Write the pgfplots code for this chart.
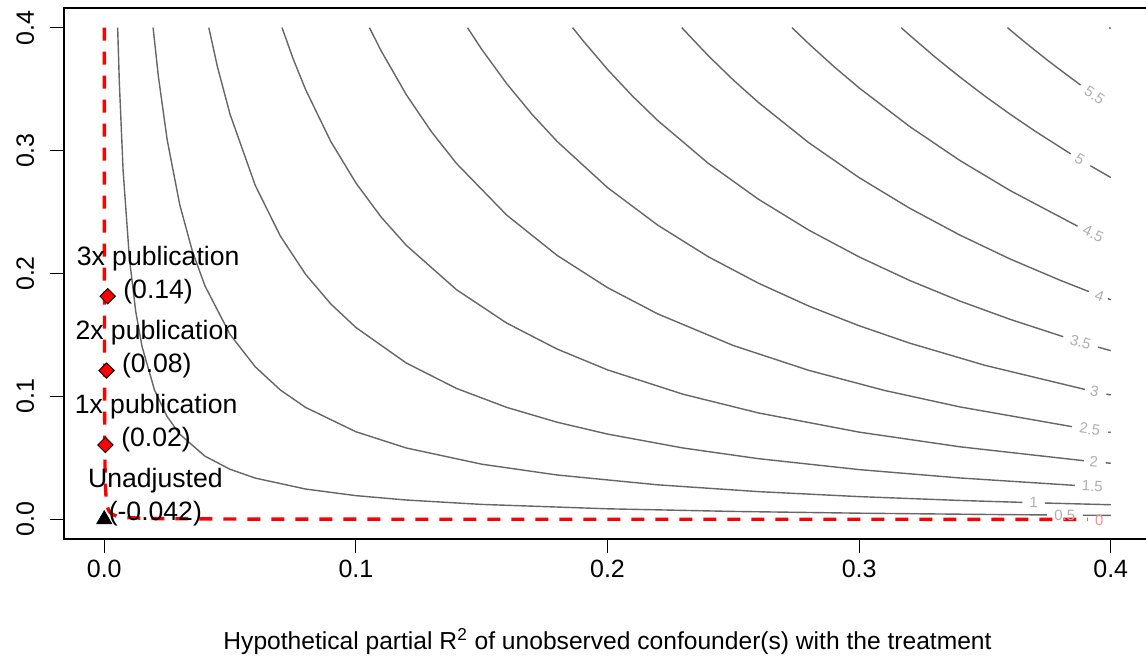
\documentclass[border=0pt]{standalone}
\usepackage{pgfplots}
\pgfplotsset{compat=1.18}
\usepackage{fontspec}
\setmainfont{Liberation Sans}
\definecolor{contour}{HTML}{666666}
\definecolor{clab}{HTML}{AFAFAF}
\definecolor{rlab}{HTML}{FF8C8C}
\newcommand{\mainfont}{\fontsize{13.3bp}{16.5bp}\selectfont}
\newcommand{\tickfont}{\fontsize{12.5bp}{15bp}\selectfont}
\newcommand{\titlefont}{\fontsize{12.3bp}{15bp}\selectfont}
\newcommand{\labfont}{\fontsize{7.5bp}{9bp}\selectfont}
\begin{document}
\begin{tikzpicture}
\begin{axis}[
  at={(32bp,60.5bp)}, anchor=south west,
  scale only axis, width=543.5bp, height=265.5bp,
  xmin=-0.016, xmax=0.416, ymin=-0.016, ymax=0.416,
  axis line style={black, line width=0.6bp},
  tick align=outside, tick pos=left,
  major tick length=7bp,
  tick style={black, line width=0.6bp},
  xtick={0,0.1,0.2,0.3,0.4}, xticklabels={0.0,0.1,0.2,0.3,0.4},
  ytick={0,0.1,0.2,0.3,0.4}, yticklabels={0.0,0.1,0.2,0.3,0.4},
  ticklabel style={font=\tickfont},
  xticklabel style={anchor=base},
  xticklabel shift=12bp,
  yticklabel style={rotate=90, anchor=base},
  yticklabel shift=8bp,
  xlabel={Hypothetical partial R\textsuperscript{2} of unobserved confounder(s) with the treatment},
  xlabel style={font=\titlefont, at={(axis description cs:0.5,0)}, anchor=base, yshift=-55bp},
  contourline/.style={color=contour, line width=0.7bp, no markers},
]
% level 0.5
\addplot[contourline] coordinates {(0.005327,0.4) (0.006,0.3549) (0.0075,0.2835) (0.01,0.2121) (0.0125,0.1692) (0.015,0.1407) (0.02,0.1050) (0.025,0.08355) (0.03,0.06927) (0.04,0.05142) (0.05,0.04070) (0.06,0.03356) (0.08,0.02464) (0.1,0.01928) (0.12,0.01571) (0.15,0.01214) (0.2,0.008569) (0.25,0.006427) (0.3,0.004999) (0.35,0.003978) (0.3746,0.003577)};
\addplot[contourline] coordinates {(0.3889,0.003366) (0.4,0.003213)};
% level 1
\addplot[contourline] coordinates {(0.019411,0.4) (0.0215,0.3604) (0.025,0.3088) (0.03,0.2560) (0.035,0.2183) (0.04,0.1900) (0.05,0.1504) (0.06,0.1241) (0.07,0.1052) (0.08,0.09106) (0.1,0.07126) (0.12,0.05807) (0.15,0.04487) (0.18,0.03607) (0.22,0.02807) (0.26,0.02254) (0.3,0.01848) (0.34,0.01537) (0.3649,0.01378)};
\addplot[contourline] coordinates {(0.3738,0.01326) (0.4,0.01188)};
% level 1.5
\addplot[contourline] coordinates {(0.04155,0.4) (0.045,0.3680) (0.05,0.3295) (0.06,0.2717) (0.07,0.2304) (0.08,0.1994) (0.09,0.1753) (0.1,0.1561) (0.12,0.1272) (0.14,0.1065) (0.16,0.09104) (0.18,0.07899) (0.2,0.06936) (0.23,0.05805) (0.26,0.04935) (0.3,0.04046) (0.34,0.03366) (0.3857,0.02762)};
% level 2
\addplot[contourline] coordinates {(0.07065,0.4) (0.075,0.3750) (0.08,0.3497) (0.09,0.3075) (0.1,0.2737) (0.11,0.2460) (0.12,0.2230) (0.14,0.1868) (0.16,0.1596) (0.18,0.1385) (0.2,0.1216) (0.23,0.1018) (0.26,0.08655) (0.3,0.07095) (0.34,0.05903) (0.3893,0.04770)};
\addplot[contourline] coordinates {(0.3980,0.04600) (0.4,0.04561)};
% level 2.5
\addplot[contourline] coordinates {(0.10539,0.4) (0.11,0.3813) (0.12,0.3456) (0.13,0.3154) (0.14,0.2895) (0.16,0.2474) (0.18,0.2147) (0.2,0.1885) (0.22,0.1671) (0.25,0.1414) (0.28,0.1212) (0.31,0.1049) (0.34,0.09148) (0.3846,0.07540)};
\addplot[contourline] coordinates {(0.3990,0.07098) (0.4,0.07068)};
% level 3
\addplot[contourline] coordinates {(0.14436,0.4) (0.15,0.3824) (0.16,0.3543) (0.17,0.3295) (0.18,0.3074) (0.2,0.2699) (0.22,0.2393) (0.24,0.2137) (0.26,0.1921) (0.28,0.1735) (0.3,0.1575) (0.32,0.1434) (0.35,0.1253) (0.3897,0.1057)};
\addplot[contourline] coordinates {(0.3983,0.1019) (0.4,0.1012)};
% level 3.5
\addplot[contourline] coordinates {(0.18615,0.4) (0.19,0.3901) (0.2,0.3660) (0.21,0.3442) (0.22,0.3244) (0.24,0.2897) (0.26,0.2604) (0.28,0.2353) (0.3,0.2135) (0.32,0.1944) (0.34,0.1776) (0.36,0.1627) (0.3811,0.1486)};
\addplot[contourline] coordinates {(0.3950,0.1401) (0.4,0.1372)};
% level 4
\addplot[contourline] coordinates {(0.2295,0.4) (0.24,0.3773) (0.25,0.3574) (0.26,0.3391) (0.28,0.3064) (0.3,0.2780) (0.32,0.2532) (0.34,0.2313) (0.36,0.2118) (0.38,0.1944) (0.3913,0.1853)};
\addplot[contourline] coordinates {(0.3988,0.1796) (0.4,0.1787)};
% level 4.5
\addplot[contourline] coordinates {(0.27332,0.4) (0.28,0.3869) (0.29,0.3683) (0.3,0.3510) (0.32,0.3197) (0.34,0.2920) (0.36,0.2675) (0.3868,0.2385)};
% level 5
\addplot[contourline] coordinates {(0.3167,0.4) (0.32,0.3940) (0.33,0.3764) (0.34,0.3599) (0.35,0.3443) (0.36,0.3296) (0.37,0.3157) (0.3841,0.2973)};
\addplot[contourline] coordinates {(0.3919,0.2877) (0.4,0.2781)};
% level 5.5
\addplot[contourline] coordinates {(0.35896,0.4) (0.365,0.3897) (0.37,0.3814) (0.375,0.3733) (0.38,0.3655) (0.388,0.3533)};
% level 6
\addplot[contourline] coordinates {(0.3994,0.4) (0.4,0.3993)};
% level 0 (threshold)
\addplot[red, line width=1.7bp, dash pattern=on 6.5bp off 5.5bp, no markers] coordinates {(0.0000322,0.4) (0.00005,0.2573) (0.0001,0.1286) (0.0002,0.06431) (0.0003,0.04287) (0.0005,0.02571) (0.00075,0.01714) (0.001,0.01285) (0.0015,0.008563) (0.002,0.006419) (0.003,0.004275) (0.005,0.002560) (0.0075,0.001702) (0.01,0.001274) (0.02,0.0006303) (0.05,0.0002444) (0.1,0.0001158) (0.2,0.0000515) (0.3,0.00003) (0.3909,0.00002)};
% contour labels
\node[rotate=-35, text=clab, font=\labfont, inner sep=0] at (axis cs:0.3936,0.3451) {5.5};
\node[rotate=-31, text=clab, font=\labfont, inner sep=0] at (axis cs:0.3877,0.2928) {5};
\node[rotate=-25, text=clab, font=\labfont, inner sep=0] at (axis cs:0.3930,0.2324) {4.5};
\node[rotate=-20, text=clab, font=\labfont, inner sep=0] at (axis cs:0.3956,0.1820) {4};
\node[rotate=-16, text=clab, font=\labfont, inner sep=0] at (axis cs:0.3880,0.1443) {3.5};
\node[rotate=-12, text=clab, font=\labfont, inner sep=0] at (axis cs:0.3936,0.1040) {3};
\node[rotate=-8.5, text=clab, font=\labfont, inner sep=0] at (axis cs:0.3917,0.07318) {2.5};
\node[rotate=-5.5, text=clab, font=\labfont, inner sep=0] at (axis cs:0.3933,0.04691) {2};
\node[rotate=-3, text=clab, font=\labfont, inner sep=0] at (axis cs:0.3927,0.02682) {1.5};
\node[rotate=-1.6, text=clab, font=\labfont, inner sep=0] at (axis cs:0.3694,0.01352) {1};
\node[text=clab, font=\labfont, inner sep=0] at (axis cs:0.3817,0.00347) {0.5};
\node[text=rlab, font=\labfont, inner sep=0] at (axis cs:0.3954,-0.0005) {0};
% points
\addplot[only marks, mark=square*, mark size=2.7bp, mark options={rotate=45, fill=red, draw=black, line width=0.5bp}] coordinates {(0.00045,0.0605) (0.0009,0.121) (0.00135,0.1815)};
\addplot[only marks, mark=triangle*, mark size=4.3bp, mark options={fill=black, draw=black}] coordinates {(0,0)};
% point labels
\node[align=center, font=\mainfont, inner sep=0] at (axis cs:0.0214,0.1988) {3x publication\\(0.14)};
\node[align=center, font=\mainfont, inner sep=0] at (axis cs:0.0209,0.1385) {2x publication\\(0.08)};
\node[align=center, font=\mainfont, inner sep=0] at (axis cs:0.0206,0.0786) {1x publication\\(0.02)};
\node[align=center, font=\mainfont, inner sep=0] at (axis cs:0.0203,0.0182) {Unadjusted\\(-0.042)};
\end{axis}
\pgfresetboundingbox
\useasboundingbox (0,0) rectangle (573bp,330bp);
\end{tikzpicture}
\end{document}
